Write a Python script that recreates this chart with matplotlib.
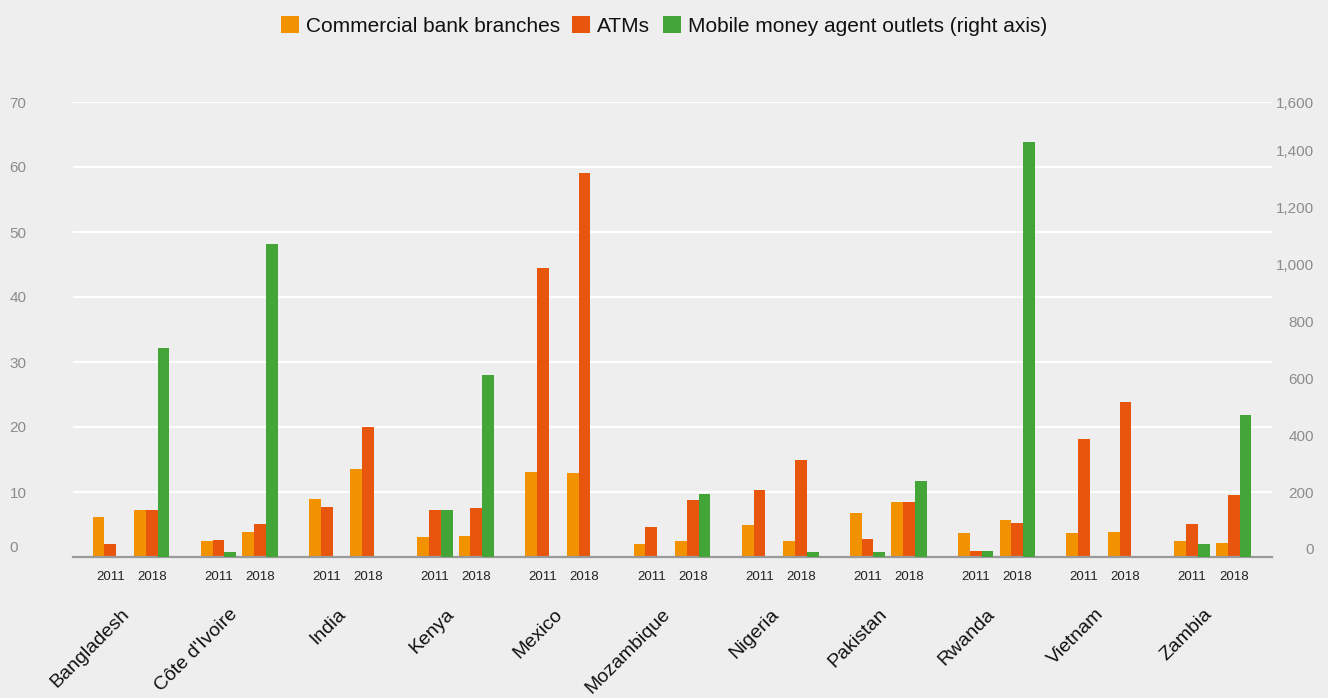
import matplotlib
matplotlib.use('Agg')
import matplotlib.pyplot as plt
import numpy as np
from matplotlib.transforms import ScaledTranslation
from matplotlib.patches import Patch

plt.rcParams['font.family'] = ['Liberation Sans', 'DejaVu Sans']

# ---------------- data ----------------
countries = ['Bangladesh', "Côte d'Ivoire", 'India', 'Kenya', 'Mexico', 'Mozambique',
             'Nigeria', 'Pakistan', 'Rwanda', 'Vietnam', 'Zambia']
years = ['2011', '2018']
branches_2011 = [6.2, 2.5, 8.9, 3.1, 13.1, 2.0, 4.9, 6.8, 3.7, 3.7, 2.5]
branches_2018 = [7.2, 3.9, 13.5, 3.2, 12.9, 2.5, 2.5, 8.5, 5.7, 3.9, 2.2]
atms_2011 = [2.0, 2.6, 7.7, 7.2, 44.5, 4.6, 10.3, 2.8, 0.9, 18.2, 5.1]
atms_2018 = [7.2, 5.1, 20.0, 7.5, 59.1, 8.8, 14.9, 8.5, 5.2, 23.8, 9.5]
agents_2011 = [np.nan, 18, np.nan, 165, np.nan, np.nan, np.nan, 18, 21, np.nan, 46]
agents_2018 = [735, 1100, np.nan, 640, np.nan, 221, 18, 267, 1459, np.nan, 499]

series_names = ['Commercial bank branches', 'ATMs', 'Mobile money agent outlets (right axis)']
colors = ['#F39200', '#E8560E', '#43A537']
left_ticks = [0, 10, 20, 30, 40, 50, 60, 70]
right_ticks = [0, 200, 400, 600, 800, 1000, 1200, 1400, 1600]

# ---------------- layout ----------------
W, H = 1328, 698
bg = '#eeeeee'
fig = plt.figure(figsize=(W / 100, H / 100), dpi=100, facecolor=bg)
ax = fig.add_axes([73 / W, 141 / H, 1199 / W, 455 / H])
ax.set_facecolor(bg)
ax2 = ax.twinx()
ax2.patch.set_visible(False)

x = np.arange(len(countries))
d = 0.1918      # half distance between year slots
w = 0.109       # bar width

for yi, (br, at, ag) in enumerate([(branches_2011, atms_2011, agents_2011),
                                   (branches_2018, atms_2018, agents_2018)]):
    slot = x + (-d if yi == 0 else d)
    ax.bar(slot - w, br, width=w, color=colors[0], linewidth=0, zorder=3)
    ax.bar(slot, at, width=w, color=colors[1], linewidth=0, zorder=3)
    ax2.bar(slot + w, ag, width=w, color=colors[2], linewidth=0, zorder=3)

ax.set_xlim(-0.536, 10.546)
ax.set_ylim(0, 70)
ax2.set_ylim(0, 1600)

# grid
ax.set_axisbelow(True)
ax.yaxis.grid(True, color='white', linewidth=1.6)
for a in (ax, ax2):
    for s in a.spines.values():
        s.set_visible(False)
ax.spines['bottom'].set_visible(True)
ax.spines['bottom'].set_color('#9a9a9a')
ax.spines['bottom'].set_linewidth(1.6)
ax.spines['bottom'].set_zorder(5)

# left ticks
ax.set_yticks(left_ticks, [str(v) for v in left_ticks])
ax.tick_params(axis='y', length=0, pad=45.7, labelsize=11, labelcolor='#8c8c8c')
for t in ax.yaxis.get_major_ticks():
    t.label1.set_ha('left')
ax.yaxis.get_major_ticks()[0].label1.set_transform(
    ax.yaxis.get_major_ticks()[0].label1.get_transform() + ScaledTranslation(0, 0.10, fig.dpi_scale_trans))

# right ticks
ax2.set_yticks(right_ticks, [f'{v:,}' for v in right_ticks])
ax2.tick_params(axis='y', length=0, pad=30.2, labelsize=11, labelcolor='#8c8c8c')
for i, t in enumerate(ax2.yaxis.get_major_ticks()):
    t.label2.set_ha('right')
    if right_ticks[i] < 1600:
        t.label2.set_transform(t.label2.get_transform() + ScaledTranslation(0, 0.08, fig.dpi_scale_trans))

# year tick labels
pos = np.concatenate([x - d, x + d])
labs = [years[0]] * len(x) + [years[1]] * len(x)
order = np.argsort(pos)
ax.set_xticks(pos[order], [labs[i] for i in order])
ax.tick_params(axis='x', length=0, pad=10, labelsize=9.5, labelcolor='#222222')

# country labels
for i, c in enumerate(countries):
    ax.text(i + 0.02, -0.107, c, transform=ax.get_xaxis_transform(), rotation=45,
            ha='right', va='top', fontsize=14, color='#111111')

# legend
handles = [Patch(facecolor=c, edgecolor='none') for c in colors]
fig.legend(handles, series_names, loc='center', bbox_to_anchor=(0.500, 0.963), ncol=3,
           frameon=False, fontsize=15, handlelength=0.85, handleheight=0.85,
           handletextpad=0.35, columnspacing=0.6, labelcolor='#111111')

fig.savefig('out.png', dpi=100, facecolor=bg)
